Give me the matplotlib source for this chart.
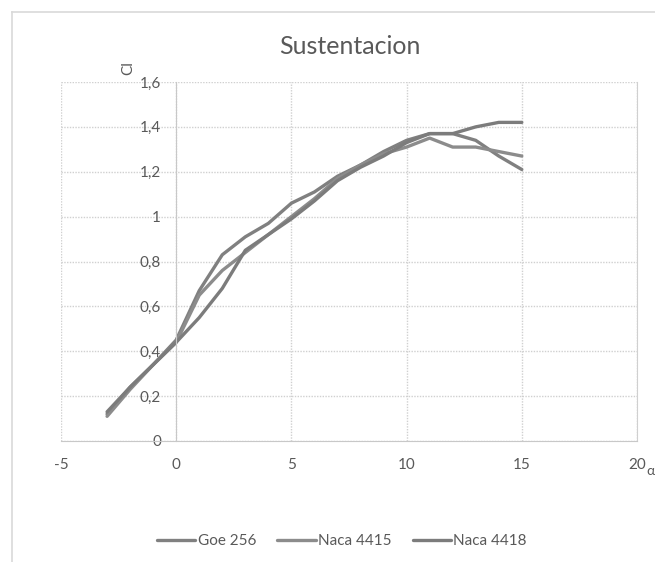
import matplotlib
matplotlib.use("Agg")
import matplotlib.pyplot as plt
from matplotlib.lines import Line2D

plt.rcParams['font.family'] = ['Lato', 'DejaVu Sans']

alpha = [-3, -2, -1, 0, 1, 2, 3, 4, 5, 6, 7, 8, 9, 10, 11, 12, 13, 14, 15]
goe_256 = [0.12, 0.24, 0.34, 0.45, 0.67, 0.83, 0.91, 0.97, 1.06, 1.11, 1.18, 1.23, 1.29, 1.34, 1.37, 1.37, 1.34, 1.27, 1.21]
naca_4415 = [0.11, 0.23, 0.34, 0.44, 0.65, 0.76, 0.84, 0.92, 1.00, 1.08, 1.17, 1.23, 1.28, 1.31, 1.35, 1.31, 1.31, 1.29, 1.27]
naca_4418 = [0.13, 0.24, 0.34, 0.44, 0.55, 0.68, 0.85, 0.92, 0.99, 1.07, 1.16, 1.22, 1.27, 1.33, 1.37, 1.37, 1.40, 1.42, 1.42]
series_names = ["Goe 256", "Naca 4415", "Naca 4418"]
x_ticks = [-5, 0, 5, 10, 15, 20]
y_ticks = [0, 0.2, 0.4, 0.6, 0.8, 1.0, 1.2, 1.4, 1.6]
y_tick_labels = ["0", "0,2", "0,4", "0,6", "0,8", "1", "1,2", "1,4", "1,6"]

W, H = 655, 562
fig = plt.figure(figsize=(W / 100, H / 100), dpi=100)
ax = fig.add_axes([61 / W, 1 - 441 / H, (637 - 61) / W, (441 - 82) / H])

colors = ["#808080", "#8c8c8c", "#7c7c7c"]
for ys, name, c in zip([goe_256, naca_4415, naca_4418], series_names, colors):
    ax.plot(alpha, ys, color=c, lw=2.4, label=name, solid_capstyle='round', solid_joinstyle='round')

ax.set_xlim(-5, 20)
ax.set_ylim(0, 1.6)
ax.set_xticks(x_ticks)
ax.set_xticklabels([str(t) for t in x_ticks])
ax.set_yticks(y_ticks)
ax.set_yticklabels(y_tick_labels)
ax.grid(True, color="#d0d0d0", linestyle=(0, (1, 1)), linewidth=1)
ax.set_axisbelow(True)

ax.spines['top'].set_visible(False)
ax.spines['left'].set_position(('data', 0))
ax.spines['left'].set_color("#c8c8c8")
ax.spines['bottom'].set_color("#c8c8c8")
ax.spines['right'].set_color("#d0d0d0")
ax.tick_params(axis='both', length=0, colors="#595959", labelsize=11)
ax.tick_params(axis='y', pad=11)
ax.tick_params(axis='x', pad=12)

fig.text(350 / W, 1 - 47 / H, "Sustentacion", ha='center', va='center', fontsize=18, color="#595959")
fig.text(128 / W, 1 - 68 / H, "Cl", ha='center', va='center', rotation=90, fontsize=11, color="#595959")
fig.text(646 / W, 1 - 471 / H, "α", ha='left', va='center', fontsize=10, color="#595959")

leg = ax.legend(loc='center', bbox_to_anchor=(342 / W, 1 - 541 / H), bbox_transform=fig.transFigure,
                ncol=3, frameon=False, fontsize=11, handlelength=2.5, handletextpad=0.15,
                columnspacing=1.4, labelcolor="#595959")

fig.add_artist(Line2D([12 / W, 1], [1 - 12 / H, 1 - 12 / H], transform=fig.transFigure, color="#d9d9d9", lw=1.2))
fig.add_artist(Line2D([12 / W, 12 / W], [0, 1 - 12 / H], transform=fig.transFigure, color="#d9d9d9", lw=1.2))

fig.savefig("out.png", dpi=100)
